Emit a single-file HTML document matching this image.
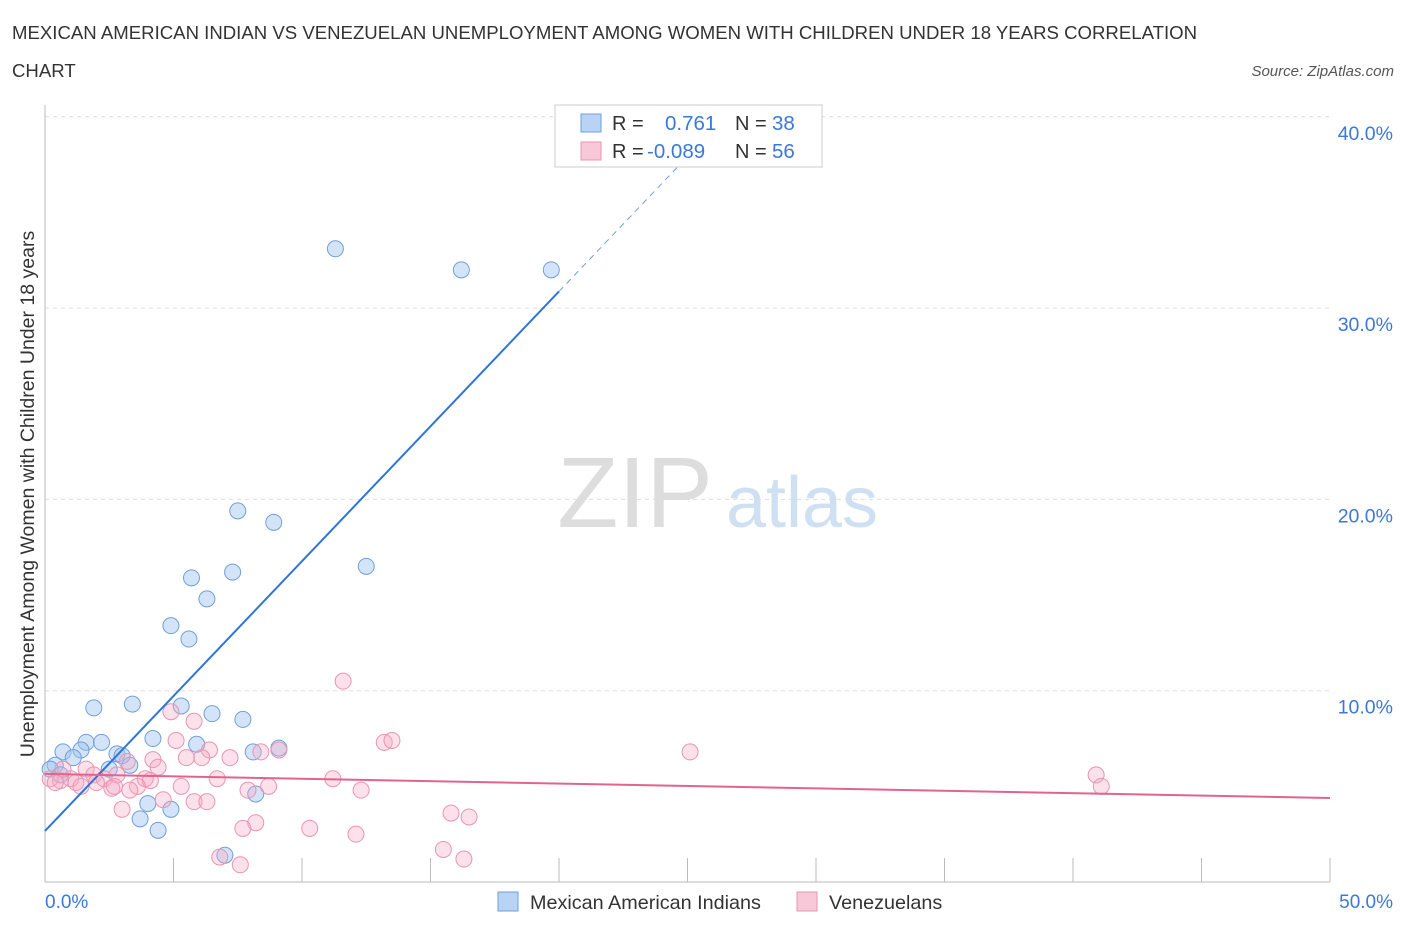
<!DOCTYPE html>
<html><head><meta charset="utf-8"><style>
body{margin:0;background:#fff;font-family:"Liberation Sans",sans-serif;}
svg text{font-family:"Liberation Sans",sans-serif;}
</style></head><body>
<svg id="chart" width="1406" height="930">
<text x="12" y="39" font-size="18.6" fill="#333">MEXICAN AMERICAN INDIAN VS VENEZUELAN UNEMPLOYMENT AMONG WOMEN WITH CHILDREN UNDER 18 YEARS CORRELATION</text>
<text x="12" y="77" font-size="18.6" fill="#333">CHART</text>
<text x="1394" y="76" font-size="15" fill="#555" text-anchor="end" font-style="italic">Source: ZipAtlas.com</text>
<text x="635" y="527" font-size="100" fill="#ddd" text-anchor="middle" font-family="Liberation Serif">ZIP</text>
<text x="802" y="527" font-size="72" fill="#cfe0f3" text-anchor="middle">atlas</text>
<g id="grid"></g><g id="ticks"></g>
<line x1="45" y1="105" x2="45" y2="882" stroke="#bbb"/>
<line x1="45" y1="882" x2="1330" y2="882" stroke="#bbb"/>
<text x="34" y="494" font-size="19.5" fill="#333" text-anchor="middle" transform="rotate(-90 34 494)">Unemployment Among Women with Children Under 18 years</text>
<text x="45" y="908" font-size="19" fill="#3b78d8">0.0%</text>
<text x="1393" y="908" font-size="19" fill="#3b78d8" text-anchor="end">50.0%</text>
<g id="pts"></g><g id="trend"></g>
<g>
<rect x="555" y="105" width="267" height="62" fill="#fff" stroke="#ccc"/>
<rect x="581" y="114" width="20" height="18" fill="#b8d3f3" stroke="#6f9fd8"/>
<rect x="581" y="142" width="20" height="18" fill="#f9c8d8" stroke="#e895b0"/>
<text x="612" y="130" font-size="20" fill="#333">R = </text><text x="665" y="130" font-size="20.5" fill="#3b78d8">0.761</text>
<text x="735" y="130" font-size="20" fill="#333">N = </text><text x="772" y="130" font-size="20.5" fill="#3b78d8">38</text>
<text x="612" y="158" font-size="20" fill="#333">R = </text><text x="647" y="158" font-size="20.5" fill="#3b78d8">-0.089</text>
<text x="735" y="158" font-size="20" fill="#333">N = </text><text x="772" y="158" font-size="20.5" fill="#3b78d8">56</text>
</g>
<g>
<rect x="498" y="892" width="20" height="19" fill="#b8d3f3" stroke="#6f9fd8"/>
<text x="530" y="909" font-size="19.8" fill="#333">Mexican American Indians</text>
<rect x="797" y="892" width="20" height="19" fill="#f9c8d8" stroke="#e895b0"/>
<text x="829" y="909" font-size="19.8" fill="#333">Venezuelans</text>
</g>
</svg>
<script>
const yTicks=[10,20,30,40];
const xTicks=[0,5,10,15,20,25,30,35,40,45,50];
const blueX=[11.3,16.2,19.7,7.5,8.9,12.5,5.7,7.3,6.3,4.9,5.6,1.9,3.4,5.3,6.5,7.7,4.2,5.9,1.6,2.2,1.4,0.7,1.1,2.8,3.0,8.1,9.1,3.3,2.5,0.4,0.2,0.6,4.0,4.9,3.7,4.4,8.2,7.0];
const blueY=[33.1,32.0,32.0,19.4,18.8,16.5,15.9,16.2,14.8,13.4,12.7,9.1,9.3,9.2,8.8,8.5,7.5,7.2,7.3,7.3,6.9,6.8,6.5,6.7,6.6,6.8,7.0,6.1,5.9,6.1,5.9,5.6,4.1,3.8,3.3,2.7,4.6,1.4];
const pinkX=[11.6,4.9,5.8,13.2,13.5,25.1,5.1,6.4,5.5,6.1,7.2,8.4,9.1,3.2,4.2,4.4,40.9,41.1,11.2,6.7,3.9,4.1,1.6,1.9,2.3,2.8,1.0,1.2,0.6,0.2,0.4,2.0,2.6,2.7,3.6,5.3,8.7,12.3,7.9,1.4,3.0,5.8,6.3,4.6,8.2,7.7,10.3,12.1,15.8,16.5,15.5,16.3,6.8,7.6,3.3,0.7];
const pinkY=[10.5,8.9,8.4,7.3,7.4,6.8,7.4,6.9,6.5,6.5,6.5,6.8,6.9,6.3,6.4,6.0,5.6,5.0,5.4,5.4,5.4,5.3,5.9,5.6,5.4,5.6,5.4,5.2,5.3,5.4,5.2,5.2,4.9,5.0,5.0,5.0,5.0,4.8,4.8,5.0,3.8,4.2,4.2,4.3,3.1,2.8,2.8,2.5,3.6,3.4,1.7,1.2,1.3,0.9,4.8,5.9];
const blueTrend=[2.67,1.41];
const pinkTrend=[5.65,-0.0252];
const NS="http://www.w3.org/2000/svg";
const sx=v=>45+v*25.7, sy=v=>882-v*19.13;
function mk(t,a,p){const e=document.createElementNS(NS,t);for(const k in a)e.setAttribute(k,a[k]);document.getElementById(p).appendChild(e);return e;}
yTicks.forEach(v=>{
 const l=mk('line',{x1:45,x2:1330,y1:sy(v),y2:sy(v),stroke:'#ddd','stroke-dasharray':'4,4'},'grid');
 
 
 const t=mk('text',{x:1393,y:sy(v)+23,'font-size':19.5,fill:'#3b78d8','text-anchor':'end'},'grid');t.textContent=v.toFixed(1)+'%';
 
 
});
xTicks.forEach(v=>{
 const l=mk('line',{x1:sx(v),x2:sx(v),y1:858,y2:882,stroke:'#bbb'},'ticks');
 
 
});
blueX.forEach((x,i)=>{
 const c=mk('circle',{cx:sx(x),cy:sy(blueY[i]),r:8,fill:'rgba(160,195,240,0.45)',stroke:'#6f9fd8','stroke-width':1},'pts');
 
 
});
pinkX.forEach((x,i)=>{
 const c=mk('circle',{cx:sx(x),cy:sy(pinkY[i]),r:8,fill:'rgba(245,170,195,0.35)',stroke:'#e895b0','stroke-width':1},'pts');
 
 
});
const bf=x=>blueTrend[0]+blueTrend[1]*x, pf=x=>pinkTrend[0]+pinkTrend[1]*x;
let l1=mk('line',{x1:sx(0),y1:sy(bf(0)),x2:sx(20),y2:sy(bf(20)),stroke:'#2f74d8','stroke-width':2},'trend');


let l2=mk('line',{x1:sx(20),y1:sy(bf(20)),x2:sx(24.7),y2:sy(bf(24.7)),stroke:'#6f9fd8','stroke-width':1,'stroke-dasharray':'6,5'},'trend');


let l3=mk('line',{x1:sx(0),y1:sy(pf(0)),x2:sx(50),y2:sy(pf(50)),stroke:'#e0648f','stroke-width':2},'trend');


</script>
</body></html>
